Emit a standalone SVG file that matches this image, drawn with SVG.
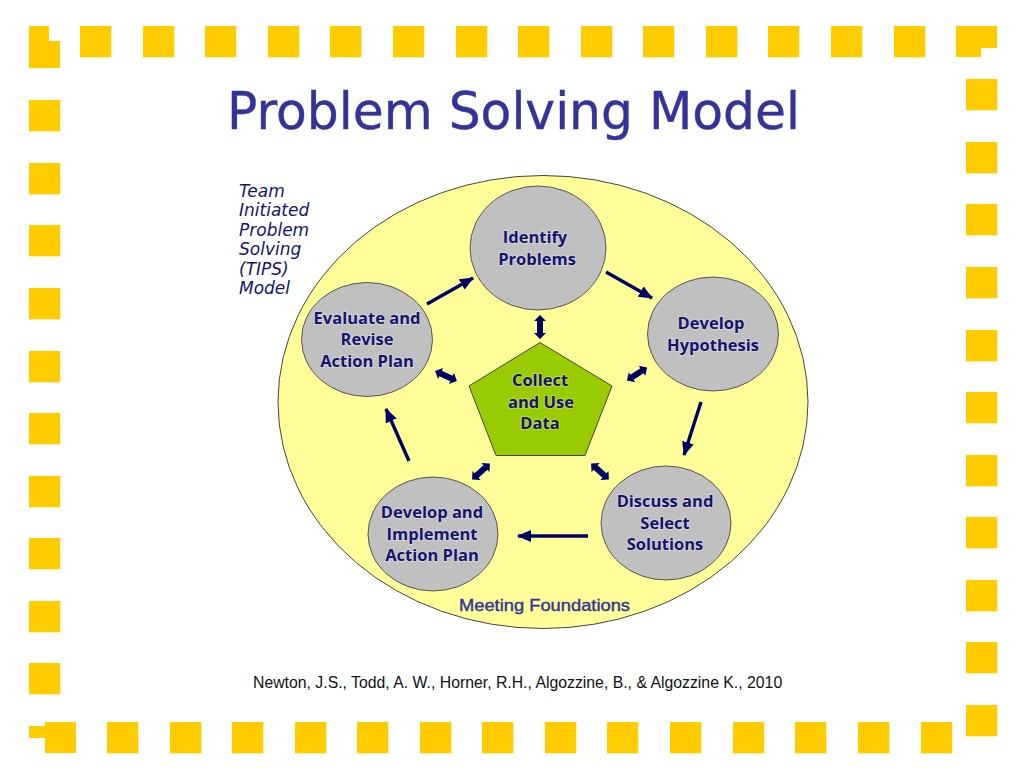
<svg xmlns="http://www.w3.org/2000/svg" width="1024" height="768" viewBox="0 0 1024 768">
<style>
.b{fill:#ffcc00}
.n{fill:#c0c0c0;stroke:#555;stroke-width:1}
.t{font-family:"Open Sans","Noto Sans",sans-serif;font-weight:700;font-size:16.5px;fill:#14146e;text-anchor:middle;stroke:#fff;stroke-opacity:.3;stroke-width:2px;paint-order:stroke}
.i{font-family:"DejaVu Sans",sans-serif;font-style:italic;font-size:17px;fill:#14146e}
.a{stroke:#000066;stroke-width:3.4;fill:none}
.d{fill:#000066}
</style>
<defs>
<rect id="s" class="b" width="31.3" height="31.3"/>
<marker id="h" markerUnits="userSpaceOnUse" markerWidth="16" markerHeight="14" refX="13" refY="6" orient="auto"><path d="M0 0L14 6L0 12z" class="d"/></marker>
<path id="dbl" class="d" d="M-12 0L-6 -6V-3H6V-6L12 0L6 6V3H-6V6z"/>
</defs>
<g id="border">
<polygon class="b" points="29,26 49,26 49,41 60,41 60,68 29,68"/>
<polygon class="b" points="956,26 997,26 997,48 981,48 981,57 956,57"/>
<polygon class="b" points="29,726 45,726 45,722 76,722 76,753 45,753 45,738 29,738"/>
<use href="#s" x="80" y="26"/><use href="#s" x="143" y="26"/><use href="#s" x="205" y="26"/><use href="#s" x="268" y="26"/><use href="#s" x="330" y="26"/><use href="#s" x="393" y="26"/><use href="#s" x="456" y="26"/><use href="#s" x="518" y="26"/><use href="#s" x="581" y="26"/><use href="#s" x="643" y="26"/><use href="#s" x="706" y="26"/><use href="#s" x="768" y="26"/><use href="#s" x="831" y="26"/><use href="#s" x="894" y="26"/>
<use href="#s" x="29" y="100"/><use href="#s" x="29" y="163"/><use href="#s" x="29" y="225"/><use href="#s" x="29" y="288"/><use href="#s" x="29" y="351"/><use href="#s" x="29" y="413"/><use href="#s" x="29" y="476"/><use href="#s" x="29" y="538"/><use href="#s" x="29" y="601"/><use href="#s" x="29" y="663"/>
<use href="#s" x="966" y="79"/><use href="#s" x="966" y="142"/><use href="#s" x="966" y="204"/><use href="#s" x="966" y="267"/><use href="#s" x="966" y="330"/><use href="#s" x="966" y="392"/><use href="#s" x="966" y="455"/><use href="#s" x="966" y="517"/><use href="#s" x="966" y="580"/><use href="#s" x="966" y="642"/><use href="#s" x="966" y="705"/>
<use href="#s" x="107" y="722"/><use href="#s" x="170" y="722"/><use href="#s" x="232" y="722"/><use href="#s" x="295" y="722"/><use href="#s" x="357" y="722"/><use href="#s" x="420" y="722"/><use href="#s" x="482" y="722"/><use href="#s" x="545" y="722"/><use href="#s" x="607" y="722"/><use href="#s" x="670" y="722"/><use href="#s" x="733" y="722"/><use href="#s" x="795" y="722"/><use href="#s" x="858" y="722"/><use href="#s" x="921" y="722"/>
</g>
<text id="title" x="227" y="129" textLength="573" lengthAdjust="spacingAndGlyphs" font-family="'DejaVu Sans',sans-serif" font-size="52" fill="#333399" stroke="#333399" stroke-width=".4">Problem Solving Model</text>
<g id="background"><ellipse cx="543" cy="402" rx="265" ry="226.5" fill="#ffff99" stroke="#444" stroke-width="1"/></g>
<g id="tips">
<text class="i" x="239" y="197">Team</text><text class="i" x="239" y="216">Initiated</text><text class="i" x="239" y="236">Problem</text><text class="i" x="239" y="255">Solving</text><text class="i" x="239" y="275">(TIPS)</text><text class="i" x="239" y="294">Model</text>
</g>
<g id="connectors">
<line class="a" x1="427" y1="304" x2="473" y2="278" marker-end="url(#h)"/>
<line class="a" x1="606" y1="272" x2="652" y2="298" marker-end="url(#h)"/>
<line class="a" x1="701" y1="402" x2="684" y2="455" marker-end="url(#h)"/>
<line class="a" x1="588" y1="536" x2="518" y2="536" marker-end="url(#h)"/>
<line class="a" x1="409" y1="461" x2="386" y2="409" marker-end="url(#h)"/>
<use href="#dbl" transform="translate(540,327) rotate(90)"/>
<use href="#dbl" transform="translate(637,374) rotate(-33)"/>
<use href="#dbl" transform="translate(600,471.500) rotate(42)"/>
<use href="#dbl" transform="translate(481,471.500) rotate(-42)"/>
<use href="#dbl" transform="translate(446,376) rotate(25)"/>
</g>
<g id="identify"><ellipse class="n" cx="538" cy="248" rx="68" ry="62"/><text class="t" x="535" y="243">Identify</text><text class="t" x="537" y="265">Problems</text></g>
<g id="hypothesis"><ellipse class="n" cx="713" cy="334" rx="65.500" ry="57"/><text class="t" x="711" y="329">Develop</text><text class="t" x="713" y="351">Hypothesis</text></g>
<g id="solutions"><ellipse class="n" cx="666" cy="523" rx="65" ry="57"/><text class="t" x="665" y="507">Discuss and</text><text class="t" x="665" y="529">Select</text><text class="t" x="665" y="550">Solutions</text></g>
<g id="implement"><ellipse class="n" cx="433" cy="534" rx="65" ry="57"/><text class="t" x="432" y="518">Develop and</text><text class="t" x="432" y="540">Implement</text><text class="t" x="432" y="561">Action Plan</text></g>
<g id="evaluate"><ellipse class="n" cx="367" cy="339.500" rx="65.500" ry="57"/><text class="t" x="367" y="324">Evaluate and</text><text class="t" x="367" y="345">Revise</text><text class="t" x="367" y="367">Action Plan</text></g>
<g id="data"><polygon points="540,342.500 612,386 585,455.500 496,455.500 469,386" fill="#99cc00" stroke="#444" stroke-width="1"/><text class="t" x="540" y="386">Collect</text><text class="t" x="541" y="408">and Use</text><text class="t" x="540" y="429">Data</text></g>
<text id="foundations" x="544.500" y="611" text-anchor="middle" font-family="'Liberation Sans',sans-serif" font-size="16.500" textLength="171" lengthAdjust="spacingAndGlyphs" fill="#333399" stroke="#333399" stroke-width=".4">Meeting Foundations</text>
<text id="citation" x="253" y="688" font-family="'Liberation Sans',sans-serif" font-size="15.800" fill="#111">Newton, J.S., Todd, A. W., Horner, R.H., Algozzine, B., &amp; Algozzine K., 2010</text>
</svg>
